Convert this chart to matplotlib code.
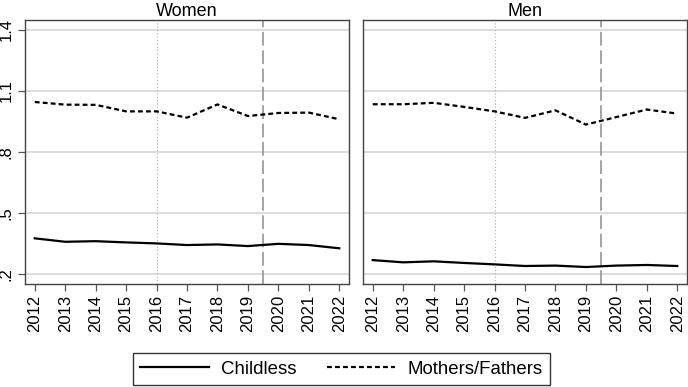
import matplotlib
matplotlib.use("Agg")
import matplotlib.pyplot as plt
from matplotlib.lines import Line2D

plt.rcParams['font.family'] = ['Liberation Sans', 'DejaVu Sans']

years = [2012, 2013, 2014, 2015, 2016, 2017, 2018, 2019, 2020, 2021, 2022]
panels = ["Women", "Men"]
women_childless = [0.374, 0.357, 0.360, 0.354, 0.349, 0.341, 0.344, 0.336, 0.347, 0.341, 0.325]
women_parents = [1.044, 1.031, 1.030, 0.998, 0.998, 0.967, 1.032, 0.975, 0.990, 0.992, 0.959]
men_childless = [0.267, 0.256, 0.261, 0.253, 0.246, 0.238, 0.240, 0.233, 0.240, 0.243, 0.238]
men_parents = [1.033, 1.033, 1.040, 1.020, 0.998, 0.966, 1.003, 0.933, 0.970, 1.007, 0.987]
yticks = [0.2, 0.5, 0.8, 1.1, 1.4]
ytick_labels = [".2", ".5", ".8", "1.1", "1.4"]
legend_labels = ["Childless", "Mothers/Fathers"]

data = {"Women": (women_childless, women_parents), "Men": (men_childless, men_parents)}

fig = plt.figure(figsize=(6.88, 3.87), dpi=100)
W, H = 688, 387
lefts = [25, 363]
for i, name in enumerate(panels):
    l = lefts[i]
    ax = fig.add_axes([l / W, 1 - 283.5 / H, 324 / W, 263.5 / H])
    ax.set_xlim(2011.68, 2022.32)
    ax.set_ylim(0.152, 1.447)
    for y in yticks:
        ax.axhline(y, color="#dadada", lw=1.3, zorder=0)
    ax.axvline(2016, color="#b0b0b0", lw=0.8, ls=(0, (1, 2)), zorder=1)
    ax.axvline(2019.5, color="#8c8c8c", lw=1.1, ls=(0, (9, 3)), zorder=1)
    c, p = data[name]
    ax.plot(years, c, color="black", lw=1.6, zorder=3)
    ax.plot(years, p, color="black", lw=1.6, ls=(0, (2.2, 1.4)), zorder=3)
    ax.set_xticks(years)
    ax.set_xticklabels([str(y) for y in years], rotation=90, fontsize=12)
    ax.set_yticks(yticks)
    if i == 0:
        ax.set_yticklabels(ytick_labels, rotation=90, fontsize=12, va="center")
        ax.tick_params(axis="y", length=5, color="#555555", width=0.9, pad=3)
    else:
        ax.tick_params(axis="y", left=False, labelleft=False)
    ax.tick_params(axis="x", length=5, color="#555555", width=0.9, pad=3)
    for s in ax.spines.values():
        s.set_color("#444444")
        s.set_linewidth(1.0)
    ax.set_title(name, fontsize=13, pad=3)

handles = [Line2D([], [], color="black", lw=1.6),
           Line2D([], [], color="black", lw=1.6, ls=(0, (2.2, 1.4)))]
leg = fig.legend(handles, legend_labels, loc="center", bbox_to_anchor=(341.5 / W, 1 - 369 / H),
                 ncol=2, fontsize=13.4, frameon=True, fancybox=False, handlelength=3.7,
                 handletextpad=0.65, columnspacing=1.6, borderpad=0.4)
leg.get_frame().set_edgecolor("black")
leg.get_frame().set_linewidth(1.0)

fig.savefig("out.png", dpi=100)
